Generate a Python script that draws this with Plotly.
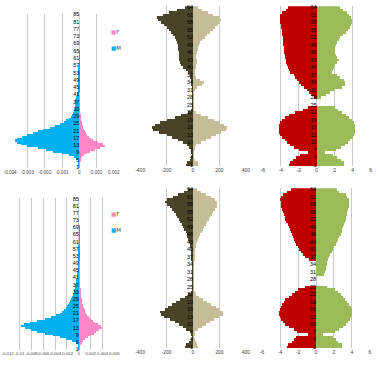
import plotly.graph_objects as go

W, H = 379, 372

# ---------------- data ----------------
cats85 = list(range(1, 86))
cats64 = list(range(1, 65))

ylab85 = [1, 5, 9, 13, 17, 21, 25, 29, 33, 37, 41, 45, 49, 53, 57, 61, 65, 69, 73, 77, 81, 85]
ylab64 = [1, 4, 7, 10, 13, 16, 19, 22, 25, 28, 31, 34, 37, 40, 43, 46, 49, 52, 55, 58, 61, 64]

xt1 = [-0.004, -0.003, -0.002, -0.001, 0, 0.001, 0.002]
xt1_text = ["-0.004", "-0.003", "-0.002", "-0.001", "0", "0.001", "0.002"]
xt4 = [-0.012, -0.01, -0.008, -0.006, -0.004, -0.002, 0, 0.002, 0.004, 0.006]
xt4_text = ["-0.012", "-0.01", "-0.008", "-0.006", "-0.004", "-0.002", "0", "0.002", "0.004", "0.006"]
xt2 = [-400, -200, 0, 200, 400]
xt2_text = ["-400", "-200", "0", "200", "400"]
xt3 = [-6, -4, -2, 0, 2, 4, 6]
xt3_text = ["-6", "-4", "-2", "0", "2", "4", "6"]

# panel 1 (top left)
M1 = [-0.00003, -0.00004, -0.00005, -0.00006, -0.0001, -0.00018, -0.0003, -0.0006, -0.001, -0.0015,
      -0.0019, -0.0024, -0.003, -0.0034, -0.0036, -0.0037, -0.0036, -0.0033, -0.003, -0.0027,
      -0.0024, -0.0021, -0.0017, -0.0014, -0.0011, -0.0009, -0.00075, -0.0006, -0.0005, -0.00043,
      -0.00038, -0.00033, -0.0003, -0.00027, -0.00025, -0.00024, -0.00023, -0.00022, -0.0002, -0.00018,
      -0.00016, -0.00012, -0.00009, -0.00007, -0.00006, -0.00005, -0.00005, -0.00004, -0.00004, -0.00004,
      -0.00003, -0.00003, -0.00003, -0.00003, -0.00002, -0.00002, -0.00002, -0.00001, -0.00001, -0.00001,
      -0.00001, -0.00001, -0.00001, -0.00001, -0.00001, 0, 0, 0, 0, 0,
      0, 0, 0, 0, 0, 0, 0, 0, 0, 0,
      0, 0, 0, 0, 0]
F1 = [0.00001, 0.00002, 0.00003, 0.00004, 0.00006, 0.0001, 0.00018, 0.0003, 0.00045, 0.0006,
      0.0009, 0.0012, 0.0015, 0.0014, 0.0011, 0.0008, 0.00065, 0.00055, 0.00047, 0.0004,
      0.00034, 0.00028, 0.00024, 0.0002, 0.00016, 0.00013, 0.0001, 0.00008, 0.00006, 0.00005,
      0.00004, 0.00003, 0.00003, 0.00002, 0.00002, 0.00002, 0.00001, 0.00001, 0.00001, 0.00001,
      0, 0, 0, 0, 0, 0, 0, 0, 0, 0,
      0, 0, 0, 0, 0, 0, 0, 0, 0, 0,
      0, 0, 0, 0, 0, 0, 0, 0, 0, 0,
      0, 0, 0, 0, 0, 0, 0, 0, 0, 0,
      0, 0, 0, 0, 0]

# panel 4 (bottom left)
M4 = [-0.00005, -0.0001, -0.0002, -0.0003, -0.0006, -0.0013, -0.0022, -0.0033, -0.0045, -0.0058,
      -0.0071, -0.0082, -0.0091, -0.0098, -0.0094, -0.0084, -0.0072, -0.0058, -0.0047, -0.0039,
      -0.0033, -0.0029, -0.0026, -0.0023, -0.0021, -0.0019, -0.0017, -0.0015, -0.0014, -0.0012,
      -0.0011, -0.001, -0.0009, -0.00085, -0.0008, -0.0007, -0.00065, -0.0006, -0.00055, -0.0005,
      -0.00045, -0.0004, -0.00037, -0.00034, -0.0003, -0.00028, -0.00025, -0.00023, -0.0002, -0.00018,
      -0.00016, -0.00014, -0.00012, -0.0001, -0.00009, -0.00008, -0.00007, -0.00006, -0.00005, -0.00004,
      -0.00003, -0.00002, -0.00002, -0.00002, -0.00001, -0.00001, -0.00001, -0.00001, -0.00001, -0.00001,
      0, 0, 0, 0, 0, 0, 0, 0, 0, 0,
      0, 0, 0, 0, 0]
F4 = [0.00002, 0.00005, 0.0001, 0.0002, 0.0004, 0.0007, 0.001, 0.0014, 0.0019, 0.0024,
      0.0029, 0.0034, 0.0038, 0.0037, 0.0032, 0.0027, 0.0023, 0.0019, 0.0016, 0.0013,
      0.0011, 0.001, 0.0009, 0.0008, 0.0007, 0.0006, 0.0005, 0.00045, 0.0004, 0.00035,
      0.0003, 0.00025, 0.0002, 0.00016, 0.00013, 0.0001, 0.00008, 0.00006, 0.00005, 0.00004,
      0.00003, 0.00003, 0.00002, 0.00002, 0.00002, 0.00001, 0.00001, 0.00001, 0.00001, 0.00001,
      0, 0, 0, 0, 0, 0, 0, 0, 0, 0,
      0, 0, 0, 0, 0, 0, 0, 0, 0, 0,
      0, 0, 0, 0, 0, 0, 0, 0, 0, 0,
      0, 0, 0, 0, 0]

# panel 2 (top middle)
D2 = [-50, -45, -25, -8, -5, -8, -15, -30, -45, -75,
      -110, -160, -200, -260, -300, -312, -290, -250, -200, -140,
      -90, -40, -12, -5, -3, -2, -2, -2, -2, -3,
      -4, -5, -8, -10, -15, -20, -25, -40, -50, -75,
      -90, -100, -105, -105, -108, -108, -110, -112, -115, -118,
      -125, -135, -150, -165, -180, -200, -220, -245, -265, -270,
      -230, -180, -120, -60]
L2 = [37, 35, 15, 5, 3, 4, 8, 15, 25, 60,
      100, 135, 175, 210, 250, 260, 235, 200, 160, 110,
      60, 22, 6, 3, 2, 2, 2, 2, 3, 5,
      10, 30, 65, 80, 55, 20, 10, 10, 15, 20,
      25, 30, 30, 25, 25, 30, 35, 40, 45, 55,
      70, 90, 105, 130, 150, 170, 190, 205, 212, 195,
      155, 110, 70, 35]

# panel 5 (bottom middle)
D5 = [-62, -50, -30, -10, -6, -12, -25, -50, -75, -105,
      -135, -175, -220, -245, -250, -215, -190, -160, -130, -95,
      -60, -35, -15, -6, -3, -2, -2, -2, -2, -3,
      -3, -4, -5, -6, -7, -8, -9, -11, -13, -16,
      -19, -24, -30, -36, -42, -48, -56, -65, -75, -85,
      -95, -105, -118, -132, -145, -160, -175, -195, -215, -195,
      -155, -110, -70, -40]
L5 = [37, 30, 20, 10, 5, 8, 15, 35, 65, 95,
      125, 160, 200, 225, 230, 200, 175, 140, 105, 75,
      45, 25, 10, 5, 3, 2, 2, 2, 2, 3,
      3, 4, 5, 6, 7, 8, 10, 12, 14, 17,
      21, 26, 32, 38, 46, 55, 65, 75, 87, 98,
      108, 118, 130, 143, 155, 168, 178, 185, 180, 165,
      135, 95, 60, 30]

# panel 3 (top right)
R3 = [-3.1, -3.0, -2.7, -2.3, -1.9, -1.0, -2.0, -2.6, -3.0, -3.3,
      -3.6, -3.9, -4.1, -4.2, -4.25, -4.25, -4.2, -4.1, -3.9, -3.6,
      -3.1, -2.5, -1.6, -1.0, 0, 0, 0, -0.3, -0.7, -0.9,
      -1.1, -1.5, -1.8, -2.0, -2.2, -2.4, -2.6, -3.0, -3.1, -3.2,
      -3.3, -3.4, -3.5, -3.6, -3.6, -3.7, -3.7, -3.7, -3.75, -3.8,
      -3.8, -3.8, -3.85, -3.9, -3.95, -4.0, -4.05, -4.1, -4.15, -4.15,
      -4.1, -3.9, -3.5, -3.2]
G3 = [3.0, 3.0, 2.7, 2.2, 1.8, 0.9, 2.1, 2.7, 3.1, 3.4,
      3.7, 4.0, 4.15, 4.2, 4.25, 4.25, 4.2, 4.1, 3.9, 3.6,
      3.2, 2.8, 2.3, 2.0, 0, 0, 0, 0.5, 1.0, 1.5,
      2.0, 2.8, 3.1, 3.1, 3.0, 2.6, 2.2, 1.7, 1.8, 1.9,
      2.0, 2.2, 2.4, 2.2, 2.1, 2.0, 2.0, 2.0, 2.1, 2.2,
      2.4, 2.6, 2.9, 3.2, 3.5, 3.7, 3.8, 3.9, 3.9, 3.8,
      3.6, 3.3, 2.9, 2.6]

# panel 6 (bottom right)
R6 = [-3.2, -3.1, -2.7, -2.4, -2.2, -0.9, -2.1, -2.5, -3.0, -3.4,
      -3.7, -3.9, -4.0, -4.07, -4.07, -4.05, -3.95, -3.8, -3.6, -3.4,
      -3.05, -2.7, -2.35, -2.0, -1.2, 0, 0, 0, 0, 0,
      0, 0, 0, 0, 0, -0.75, -1.2, -1.45, -1.65, -1.85,
      -2.0, -2.2, -2.35, -2.45, -2.6, -2.7, -2.8, -2.95, -3.05, -3.15,
      -3.3, -3.4, -3.5, -3.6, -3.7, -3.78, -3.85, -3.9, -3.95, -4.0,
      -3.95, -3.7, -3.2, -2.8]
G6 = [2.9, 2.85, 2.5, 2.2, 1.9, 0.8, 2.1, 2.6, 3.0, 3.3,
      3.6, 3.8, 3.95, 4.05, 4.05, 4.0, 3.85, 3.7, 3.45, 3.2,
      3.0, 2.8, 2.45, 2.1, 1.2, 0, 0, 0, 0, 0.9,
      1.0, 1.1, 1.15, 1.2, 1.25, 1.3, 1.45, 1.6, 1.75, 1.9,
      2.05, 2.2, 2.35, 2.45, 2.6, 2.75, 2.85, 2.95, 3.05, 3.15,
      3.22, 3.3, 3.37, 3.43, 3.5, 3.57, 3.63, 3.7, 3.7, 3.65,
      3.5, 3.3, 2.6, 2.3]

series_names = ["M", "F"]

# ---------------- style ----------------
BLUE, PINK = "#00b0f0", "#ff86c6"
DARK, TAN = "#494429", "#c4bd97"
RED, GREEN = "#c00000", "#9bbb59"
GRID = "#c9c9c9"
FONT = "Liberation Sans"


def fx(x):
    return x / W


def fy(y):
    return 1 - y / H


panels = [
    dict(neg=M1, pos=F1, cats=cats85, cols=(BLUE, PINK), xr=(-0.004, 0.002), xt=xt1, xtt=xt1_text,
         xfs=4.6, yl=ylab85, x0=10, x1=114, yt=13.5, yb=168),
    dict(neg=D2, pos=L2, cats=cats64, cols=(DARK, TAN), xr=(-400, 400), xt=xt2, xtt=xt2_text,
         xfs=5, yl=ylab64, x0=140, x1=246, yt=6.3, yb=166.3),
    dict(neg=R3, pos=G3, cats=cats64, cols=(RED, GREEN), xr=(-6, 6), xt=xt3, xtt=xt3_text,
         xfs=5, yl=ylab64, x0=262.7, x1=370.7, yt=6.3, yb=166.3),
    dict(neg=M4, pos=F4, cats=cats85, cols=(BLUE, PINK), xr=(-0.012, 0.006), xt=xt4, xtt=xt4_text,
         xfs=4.3, yl=ylab85, x0=7.5, x1=114.5, yt=197.8, yb=350),
    dict(neg=D5, pos=L5, cats=cats64, cols=(DARK, TAN), xr=(-400, 400), xt=xt2, xtt=xt2_text,
         xfs=5, yl=ylab64, x0=140, x1=246, yt=188.3, yb=348.3),
    dict(neg=R6, pos=G6, cats=cats64, cols=(RED, GREEN), xr=(-6, 6), xt=xt3, xtt=xt3_text,
         xfs=5, yl=ylab64, x0=262, x1=370, yt=188.3, yb=348.3),
]

fig = go.Figure()
layout = dict(
    template="none",
    width=W, height=H, autosize=False,
    margin=dict(l=0, r=0, t=0, b=0, pad=0),
    paper_bgcolor="white", plot_bgcolor="white",
    barmode="relative", bargap=0, showlegend=False,
    font=dict(family=FONT, size=6, color="#000000"),
)

for i, p in enumerate(panels, start=1):
    xa = "x" if i == 1 else f"x{i}"
    ya = "y" if i == 1 else f"y{i}"
    for vals, col, nm in zip((p["neg"], p["pos"]), p["cols"], series_names):
        fig.add_trace(go.Bar(
            x=vals, y=p["cats"], orientation="h", name=nm,
            marker=dict(color=col, line=dict(width=0)),
            xaxis=xa, yaxis=ya, hoverinfo="skip",
        ))
    lo, hi = p["xr"]
    span = hi - lo
    pad = span * 0.0015
    zero_px = p["x0"] + (p["x1"] - p["x0"]) * (-lo) / span
    layout["xaxis" if i == 1 else f"xaxis{i}"] = dict(
        domain=[fx(p["x0"]), fx(p["x1"])], range=[lo - pad, hi + pad], anchor=ya,
        tickmode="array", tickvals=p["xt"], ticktext=p["xtt"], tickangle=0,
        showgrid=True, gridcolor=GRID, gridwidth=1, automargin=False,
        zeroline=True, zerolinecolor=GRID, zerolinewidth=1,
        showline=False, ticks="", tickfont=dict(size=p["xfs"], color="#404040", family=FONT),
        fixedrange=True,
    )
    n = len(p["cats"])
    layout["yaxis" if i == 1 else f"yaxis{i}"] = dict(
        domain=[fy(p["yb"]), fy(p["yt"])], range=[0.5, n + 0.5],
        anchor="free", position=fx(zero_px), side="left", automargin=False,
        tickmode="array", tickvals=p["yl"], ticktext=[str(v) for v in p["yl"]],
        showgrid=False, zeroline=False, showline=False, ticks="",
        tickfont=dict(size=5.5, color="#000000", family=FONT), fixedrange=True,
    )

# legends of the left panels (F above M)
ann = []
for ytop in (31.5, 213.5):
    for k, (nm, col) in enumerate((("F", PINK), ("M", BLUE))):
        ann.append(dict(
            x=fx(108.5), y=fy(ytop + 16 * k), xref="paper", yref="paper",
            xanchor="left", yanchor="middle", showarrow=False,
            text=f"<span style='color:{col}'>■</span>{nm}",
            font=dict(size=5.5, color="#404040", family="DejaVu Sans"),
        ))
layout["annotations"] = ann

fig.update_layout(**layout)
fig.write_html(
    "out.html",
    config={"displayModeBar": False, "responsive": False},
    post_script="document.body.style.margin='0';document.body.style.overflow='hidden';",
)
